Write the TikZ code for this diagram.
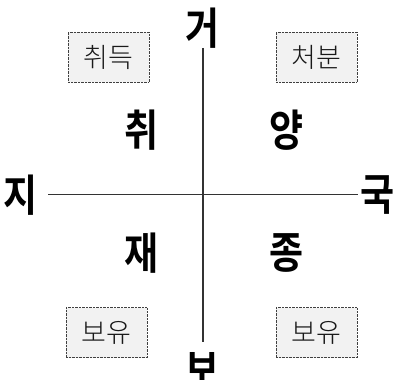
\documentclass[tikz,border=0pt]{standalone}
\usepackage{fontspec}
\newfontfamily\kr{Noto Sans CJK KR Light}
\newfontfamily\krb{Noto Sans CJK KR Bold}
\newcommand{\tallglyph}[1]{\scalebox{1}[1.18]{#1}}
\tikzset{
  big/.style={font=\krb\fontsize{37}{37}\selectfont, inner sep=0pt, text=black},
  tag/.style={draw=black!75, densely dotted, fill=black!5, minimum width=81pt, minimum height=50pt, inner sep=0pt, font=\kr\fontsize{27}{27}\selectfont, text=black!90},
  axis/.style={draw=black!80, line width=1.2pt}
}
\begin{document}
\begin{tikzpicture}[x=1pt,y=-1pt]
\useasboundingbox (0,0) rectangle (395,379);
\node[big] (n) at (203,28) {\tallglyph{거}};
\node[big] (s) at (203,369) {\tallglyph{보}};
\node[big] (w) at (21,195) {\tallglyph{지}};
\node[big] (e) at (378,195) {\tallglyph{국}};
\coordinate (vt) at (203,48);
\coordinate (vb) at (203,342);
\coordinate (hl) at (48,194.5);
\coordinate (hr) at (358,194.5);
\draw[axis] (vt) -- (vb);
\draw[axis] (hl) -- (hr);
\node[big] (q1) at (142,130) {\tallglyph{취}};
\node[big] (q2) at (287,130) {\tallglyph{양}};
\node[big] (q3) at (142,253) {\tallglyph{재}};
\node[big] (q4) at (287,253) {\tallglyph{종}};
\node[tag] (b1) at (108.5,57) {취득};
\node[tag] (b2) at (316.5,57) {처분};
\node[tag] (b3) at (106.5,332.5) {보유};
\node[tag] (b4) at (316.5,332.5) {보유};
\end{tikzpicture}
\end{document}
